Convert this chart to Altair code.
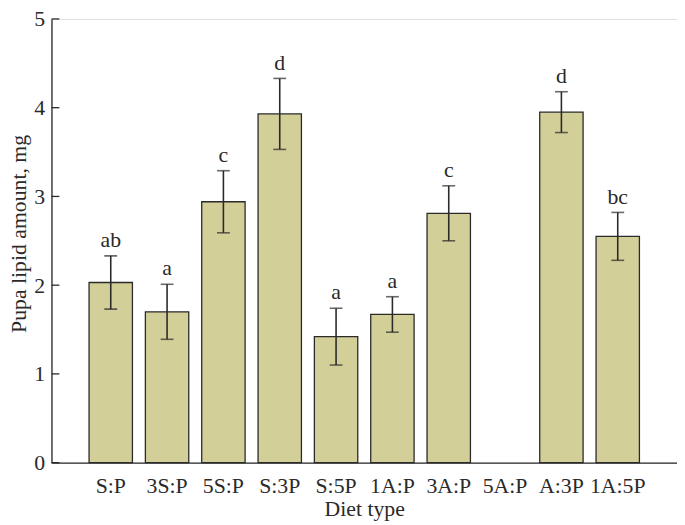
import altair as alt
import pandas as pd

categories = ["S:P", "3S:P", "5S:P", "S:3P", "S:5P", "1A:P", "3A:P", "5A:P", "A:3P", "1A:5P"]
means = [2.03, 1.70, 2.94, 3.93, 1.42, 1.67, 2.81, None, 3.95, 2.55]
errors = [0.30, 0.31, 0.35, 0.40, 0.32, 0.20, 0.31, None, 0.23, 0.27]
letters = ["ab", "a", "c", "d", "a", "a", "c", "", "d", "bc"]
y_ticks = [0, 1, 2, 3, 4, 5]

rows = []
for c, m, e, l in zip(categories, means, errors, letters):
    if m is None:
        rows.append({"diet": c, "mean": None, "lo": None, "hi": None, "letter": ""})
    else:
        rows.append({"diet": c, "mean": m, "lo": m - e, "hi": m + e, "letter": l})
df = pd.DataFrame(rows)
ticks_df = pd.DataFrame({"v": y_ticks})

FONT = "Liberation Serif"
INK = "#2a2a2a"
FS = 22

x_enc = alt.X(
    "diet:N",
    sort=categories,
    scale=alt.Scale(domain=categories, paddingInner=0.23, paddingOuter=0.667),
    axis=alt.Axis(
        title="Diet type", labelAngle=0, ticks=False, tickSize=0, labelPadding=13,
        domainColor=INK, domainWidth=1.3, labelFont=FONT, labelFontSize=FS,
        labelColor=INK, titleFont=FONT, titleFontSize=FS, titleFontWeight="normal",
        titleColor=INK, titleBaseline="alphabetic", titleY=53, grid=False,
    ),
)
y_scale = alt.Scale(domain=[0, 5], nice=False, zero=True)
y_axis = alt.Axis(
    title="Pupa lipid amount, mg", values=y_ticks, format="d", ticks=False, tickSize=0,
    labelPadding=7, domainColor=INK, domainWidth=1.3, labelFont=FONT,
    labelFontSize=FS, labelColor=INK, titleFont=FONT, titleFontSize=FS,
    titleFontWeight="normal", titleColor=INK, titlePadding=3, titleY=217, grid=False,
)

base = alt.Chart(df)

bars = base.mark_bar(color="#d3cf98", stroke="#2a2a2a", strokeWidth=1.3).encode(
    x=x_enc, y=alt.Y("mean:Q", scale=y_scale, axis=y_axis)
)
err = base.mark_rule(color=INK, strokeWidth=1.6).encode(
    x=alt.X("diet:N", sort=categories), y="lo:Q", y2="hi:Q"
)
cap_lo = base.mark_tick(color=INK, size=13, thickness=1.6).encode(
    x=alt.X("diet:N", sort=categories), y="lo:Q"
)
cap_hi = base.mark_tick(color=INK, size=13, thickness=1.6).encode(
    x=alt.X("diet:N", sort=categories), y="hi:Q"
)
labels = base.mark_text(
    baseline="alphabetic", dy=-9, font=FONT, fontSize=FS, color=INK
).encode(x=alt.X("diet:N", sort=categories), y="hi:Q", text="letter:N")

yticks = alt.Chart(ticks_df).mark_rule(color=INK, strokeWidth=1.3).encode(
    y=alt.Y("v:Q", scale=y_scale), x=alt.value(0), x2=alt.value(8)
)

chart = (
    alt.layer(bars, err, cap_lo, cap_hi, labels, yticks)
    .properties(
        width=633,
        height=449,
        autosize=alt.AutoSizeParams(type="none"),
        padding={"left": 44, "top": 8, "right": 0, "bottom": 60},
    )
    .configure_view(stroke=None)
    .configure(background="white")
)

chart.save("out.html", embed_options={"renderer": "svg", "actions": False})
